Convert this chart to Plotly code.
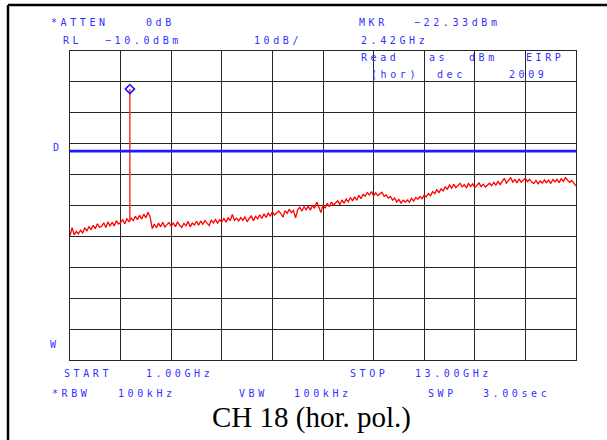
import numpy as np
import plotly.graph_objects as go

# ---- analyzer settings -------------------------------------------------
ATTEN_DB = 0
REF_LEVEL_DBM = -10.0
DB_PER_DIV = 10
START_GHZ = 1.00
STOP_GHZ = 13.00
RBW_KHZ = 100
VBW_KHZ = 100
SWEEP_SEC = 3.00
MKR_FREQ_GHZ = 2.42
MKR_LEVEL_DBM = -22.33
DISPLAY_LINE_DBM = -42.4
CAPTION = "CH 18 (hor. pol.)"
NOTE_ROW1 = ["Read", "as", "dBm", "EIRP"]
NOTE_ROW2 = ["(hor)", "dec", "2009"]

# ---- measured trace, one value per 50 MHz from START to STOP (dBm) -----
level_dbm = [
    -69.8, -67.2, -69.5, -68.4, -69.2, -68.0, -68.9, -67.3, -68.2, -66.9,
    -67.8, -66.4, -67.5, -65.9, -67.0, -66.8, -65.6, -67.1, -65.3, -66.7,
    -65.4, -66.6, -64.9, -66.0, -65.5, -64.6, -65.9, -64.3, -65.2, -64.1,
    -64.9, -63.5, -64.6, -63.2, -64.4, -62.8, -64.0, -62.2, -63.7, -67.5,
    -66.0, -67.2, -65.7, -66.9, -65.4, -67.0, -66.2, -65.5, -66.8, -65.6,
    -66.9, -65.3, -66.4, -67.1, -65.8, -66.6, -65.2, -66.9, -65.7, -66.3,
    -65.1, -66.4, -65.0, -66.1, -64.9, -65.8, -66.5, -64.8, -65.6, -64.5,
    -65.7, -64.6, -65.3, -64.2, -65.4, -64.0, -64.9, -62.9, -64.8, -64.1,
    -65.0, -63.9, -64.8, -63.6, -65.3, -64.2, -63.4, -64.9, -63.5, -64.3,
    -63.0, -64.2, -62.7, -63.9, -62.4, -63.5, -62.0, -63.1, -62.3, -61.8,
    -62.6, -63.8, -61.7, -62.5, -61.2, -62.3, -61.6, -64.0, -61.3, -60.6,
    -61.8, -60.4, -61.4, -60.2, -61.5, -59.9, -60.9, -58.9, -60.5, -62.3,
    -59.8, -60.9, -59.3, -60.4, -58.9, -59.9, -59.1, -58.5, -59.7, -58.2,
    -59.3, -57.9, -58.8, -57.4, -58.5, -57.2, -58.3, -56.7, -57.8, -56.4,
    -57.0, -55.8, -56.6, -55.5, -56.9, -55.9, -56.8, -56.2, -55.7, -57.0,
    -56.6, -57.6, -57.1, -58.3, -57.6, -58.9, -58.0, -59.2, -58.3, -58.9,
    -58.2, -58.9, -57.7, -58.6, -57.4, -58.0, -57.1, -57.8, -56.7, -57.2,
    -56.1, -56.8, -55.5, -56.2, -54.9, -55.8, -54.6, -55.3, -54.0, -54.7,
    -53.4, -54.4, -53.1, -54.2, -53.6, -52.8, -54.0, -53.2, -54.3, -52.9,
    -53.8, -53.0, -54.2, -53.4, -52.7, -53.9, -53.1, -54.0, -53.3, -52.8,
    -53.6, -52.5, -53.4, -52.2, -53.2, -52.0, -51.2, -52.8, -51.9, -51.0,
    -52.4, -51.6, -52.7, -51.4, -52.5, -51.8, -51.2, -52.3, -51.5, -52.4,
    -52.9, -51.9, -53.0, -52.1, -52.8, -51.7, -52.6, -51.8, -52.9, -51.6,
    -52.3, -51.5, -52.6, -51.3, -52.2, -51.0, -51.8, -52.5, -51.9, -52.9,
    -53.7,
]

freq_ghz = np.linspace(START_GHZ, STOP_GHZ, len(level_dbm))

# ---- page geometry (pixels) ---------------------------------------------
W, H = 607, 440
PL, PR, PT, PB = 70, 576, 51, 360          # graticule box


def px(x):
    return (x - PL) / (PR - PL)


def py(y):
    return (PB - y) / (PB - PT)


BLUE = "#3030ff"
MONO = "DejaVu Sans Mono"

fig = go.Figure()

# noise floor trace
fig.add_trace(go.Scatter(
    x=freq_ghz, y=level_dbm, mode="lines",
    line=dict(color="#ff0000", width=1.3), hoverinfo="skip", showlegend=False,
))

# carrier spike up to the marker level
floor_at_mkr = level_dbm[int(np.argmin(np.abs(freq_ghz - MKR_FREQ_GHZ)))]
fig.add_trace(go.Scatter(
    x=[MKR_FREQ_GHZ, MKR_FREQ_GHZ], y=[floor_at_mkr, MKR_LEVEL_DBM],
    mode="lines", line=dict(color="#ff3030", width=1.5),
    hoverinfo="skip", showlegend=False,
))

# display line
fig.add_trace(go.Scatter(
    x=[START_GHZ, STOP_GHZ], y=[DISPLAY_LINE_DBM, DISPLAY_LINE_DBM],
    mode="lines", line=dict(color="#1a1aff", width=2.6),
    hoverinfo="skip", showlegend=False,
))

# marker
fig.add_trace(go.Scatter(
    x=[MKR_FREQ_GHZ], y=[MKR_LEVEL_DBM], mode="markers",
    marker=dict(symbol="diamond-open", size=7, color="#1a1aff",
                line=dict(width=1.6, color="#1a1aff")),
    hoverinfo="skip", showlegend=False,
))

annotations = []


def label(text, x, y, size=10, spacing=3.6):
    annotations.append(dict(
        text=f'<span style="letter-spacing:{spacing}px">{text}</span>',
        xref="paper", yref="paper", x=px(x), y=py(y),
        xanchor="left", yanchor="middle", showarrow=False,
        borderpad=0, font=dict(family=MONO, size=size, color=BLUE),
    ))


def dbm(v, fmt):
    return format(v, fmt).replace("-", "\u2212") + "dBm"


label("*ATTEN", 50, 23)
label(f"{ATTEN_DB}dB", 145, 23)
label("MKR", 358, 23)
label(dbm(MKR_LEVEL_DBM, ".2f"), 413, 23)
label("RL", 62, 41)
label(dbm(REF_LEVEL_DBM, ".1f"), 104, 41)
label(f"{DB_PER_DIV}dB/", 253, 41)
label(f"{MKR_FREQ_GHZ:.2f}GHz", 360, 41)

for txt, x in zip(NOTE_ROW1, [360, 428, 468, 525]):
    label(txt, x, 58)
for txt, x in zip(NOTE_ROW2, [370, 436, 508]):
    label(txt, x, 75)

label("D", 52, 147)
label("W", 49, 344)

label("START", 63, 374)
label(f"{START_GHZ:.2f}GHz", 145, 374)
label("STOP", 349, 374)
label(f"{STOP_GHZ:.2f}GHz", 414, 374)
label("*RBW", 51, 393)
label(f"{RBW_KHZ}kHz", 117, 393)
label("VBW", 238, 393)
label(f"{VBW_KHZ}kHz", 293, 393)
label("SWP", 427, 393)
label(f"{SWEEP_SEC:.2f}sec", 482, 393)

annotations.append(dict(
    text=CAPTION, xref="paper", yref="paper", x=px(311), y=py(417),
    xanchor="center", yanchor="middle", showarrow=False,
    font=dict(family="Liberation Serif", size=29, color="black"),
))

# outer frame: left edge and top edge only
shapes = [
    dict(type="line", xref="paper", yref="paper",
         x0=px(8), x1=px(8), y0=py(5), y1=py(H),
         line=dict(color="black", width=2.5), layer="above"),
    dict(type="line", xref="paper", yref="paper",
         x0=px(8), x1=px(W), y0=py(5), y1=py(5),
         line=dict(color="black", width=2.5), layer="above"),
]

axis_common = dict(
    showgrid=True, gridcolor="#262626", gridwidth=1.2,
    showline=True, linecolor="#262626", linewidth=1.2, mirror=True,
    showticklabels=False, ticks="", zeroline=False, fixedrange=True,
)

fig.update_layout(
    width=W, height=H,
    margin=dict(l=PL, r=W - PR, t=PT, b=H - PB),
    paper_bgcolor="white", plot_bgcolor="white",
    xaxis=dict(range=[START_GHZ, STOP_GHZ], tick0=START_GHZ,
               dtick=(STOP_GHZ - START_GHZ) / 10, **axis_common),
    yaxis=dict(range=[REF_LEVEL_DBM - 10 * DB_PER_DIV, REF_LEVEL_DBM],
               tick0=REF_LEVEL_DBM, dtick=DB_PER_DIV, **axis_common),
    annotations=annotations,
    shapes=shapes,
    showlegend=False,
)

# keep the page exactly the figure's size (no body margin, no scrollbars)
fig.write_html(
    "out.html",
    config={"displayModeBar": False},
    post_script="document.body.style.margin='0';"
                "document.body.style.overflow='hidden';"
                "document.documentElement.style.overflow='hidden';",
)
